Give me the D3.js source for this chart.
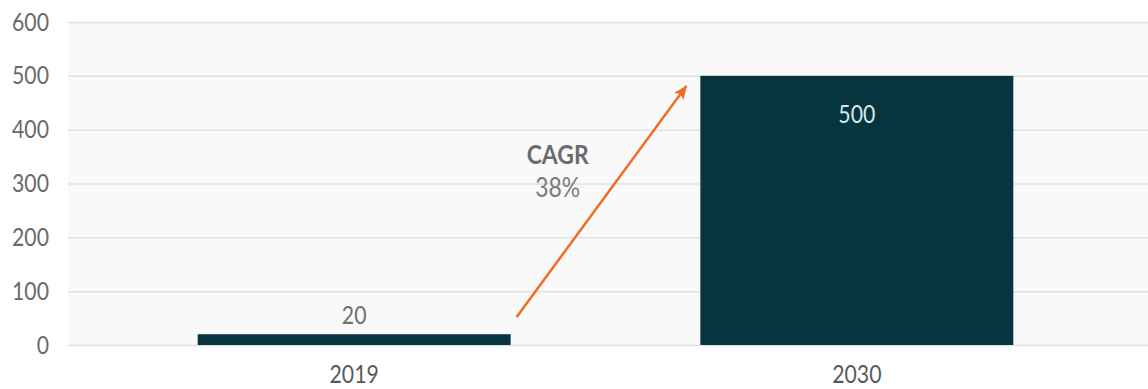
<!DOCTYPE html>
<html>
<head>
<meta charset="utf-8">
<script src="https://cdn.jsdelivr.net/npm/d3@7"></script>
<style>
  body { margin: 0; background: #fff; }
  text { font-family: Lato, "Open Sans", sans-serif; }
</style>
</head>
<body>
<svg id="chart" width="1148" height="389"></svg>
<script>
// Market size by year
const years = ["2019", "2030"];
const values = [20, 500];
const yTicks = [0, 100, 200, 300, 400, 500, 600];
const cagrTitle = "CAGR";
const cagrValue = "38%";
// growth arrow runs between these two levels (data units)
const arrowLevels = [52, 481];

const W = 1148, H = 389;
const m = { top: 22, right: 0, bottom: 44, left: 68 };
const squeeze = 0.85; // narrow letterforms

const svg = d3.select("#chart");

const x = d3.scaleBand()
  .domain(years)
  .range([m.left, W - 5])
  .paddingInner(0.3774)
  .paddingOuter(0.258);

const y = d3.scaleLinear()
  .domain([0, 600])
  .range([H - m.bottom, m.top]);

// plot background
svg.append("rect")
  .attr("x", m.left).attr("y", y(600))
  .attr("width", W - m.left - m.right).attr("height", y(0) - y(600))
  .attr("fill", "#f9f9f9");

// y axis with gridlines
const yAxis = svg.append("g")
  .attr("transform", `translate(${m.left},0)`)
  .call(d3.axisLeft(y).tickValues(yTicks).tickSize(-(W - m.left - m.right)).tickPadding(19));
yAxis.select(".domain").remove();
yAxis.selectAll(".tick line").attr("stroke", "#e1e1e1").attr("stroke-width", 1.5);
yAxis.selectAll(".tick text")
  .attr("fill", "#6a6a6a")
  .attr("font-size", 25)
  .attr("font-family", "Lato, sans-serif")
  .attr("x", -19 / squeeze)
  .attr("transform", `scale(${squeeze},1)`);

// x axis labels
const xAxis = svg.append("g")
  .attr("transform", `translate(0,${y(0)})`)
  .call(d3.axisBottom(x).tickSize(0).tickPadding(20));
xAxis.select(".domain").remove();
xAxis.selectAll(".tick text")
  .attr("fill", "#5a5a5a")
  .attr("font-size", 25)
  .attr("font-family", "Lato, sans-serif")
  .attr("transform", `scale(${squeeze},1)`);

// bars
const data = years.map((yr, i) => ({ year: yr, value: values[i] }));
svg.append("g").selectAll("rect")
  .data(data)
  .join("rect")
  .attr("x", d => x(d.year))
  .attr("y", d => y(d.value))
  .attr("width", x.bandwidth())
  .attr("height", d => y(0) - y(d.value))
  .attr("fill", "#07353f");

// value labels: above short bars, inside tall bars
function squeezedText(parent, px, py, str) {
  return parent.append("g")
    .attr("transform", `translate(${px},${py}) scale(${squeeze},1)`)
    .append("text")
    .attr("text-anchor", "middle")
    .text(str);
}
const labels = svg.append("g");
data.forEach(d => {
  const inside = y(0) - y(d.value) > 60;
  squeezedText(labels, x(d.year) + x.bandwidth() / 2, inside ? y(d.value) + 47 : y(d.value) - 10, d.value)
    .attr("font-size", 25)
    .attr("fill", inside ? "#dbe7e9" : "#707070");
});

// growth arrow
const defs = svg.append("defs");
defs.append("marker")
  .attr("id", "arrowhead")
  .attr("markerUnits", "userSpaceOnUse")
  .attr("viewBox", "0 0 14 12")
  .attr("refX", 13).attr("refY", 6)
  .attr("markerWidth", 14).attr("markerHeight", 12)
  .attr("orient", "auto")
  .append("path")
  .attr("d", "M0,0 L14,6 L0,12 L3,6 Z")
  .attr("fill", "#f26d21");

const ax0 = x(years[0]) + x.bandwidth() + 6;
const ax1 = x(years[1]) - 14;
svg.append("line")
  .attr("x1", ax0).attr("y1", y(arrowLevels[0]))
  .attr("x2", ax1).attr("y2", y(arrowLevels[1]))
  .attr("stroke", "#f26d21")
  .attr("stroke-width", 2.5)
  .attr("marker-end", "url(#arrowhead)");

// CAGR annotation: two stacked lines
const cx = x(years[0]) + x.bandwidth() + 47;
const cagrG = svg.append("g");
squeezedText(cagrG, cx, 164, cagrTitle)
  .attr("font-size", 27).attr("font-weight", 700).attr("fill", "#6b6b6b");
squeezedText(cagrG, cx, 197, cagrValue)
  .attr("font-size", 27).attr("fill", "#7a7a7a");
</script>
</body>
</html>
